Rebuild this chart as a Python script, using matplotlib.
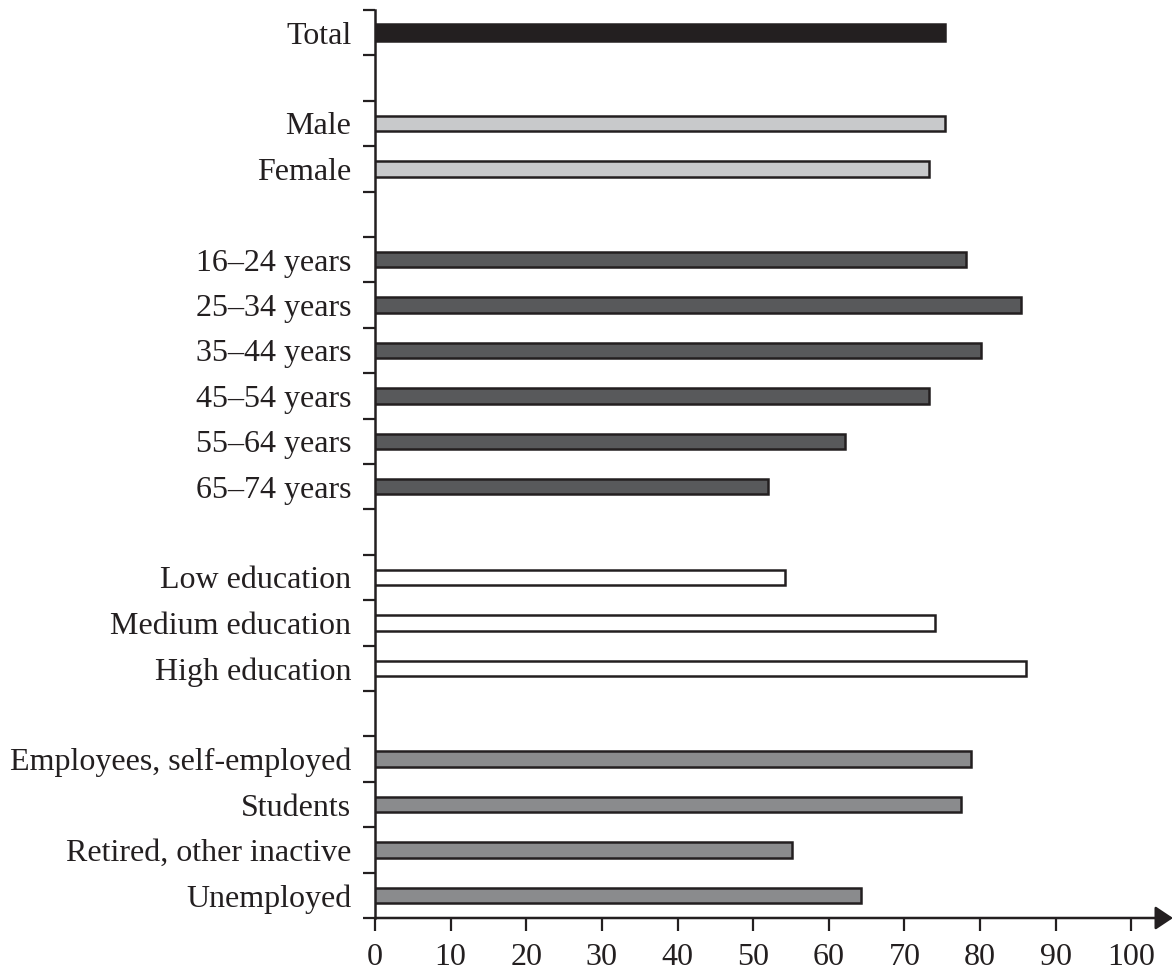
import matplotlib.pyplot as plt
import numpy as np

# Categories and values (percent)
labels = ['Total',
          'Male', 'Female',
          '16–24 years', '25–34 years', '35–44 years', '45–54 years',
          '55–64 years', '65–74 years',
          'Low education', 'Medium education', 'High education',
          'Employees, self-employed', 'Students', 'Retired, other inactive',
          'Unemployed']
values = [75.4,
          75.3, 73.2,
          78.1, 85.4, 80.1, 73.3, 62.2, 52.0,
          54.2, 74.1, 86.1,
          78.8, 77.5, 55.1, 64.2]
groups = [0, 1, 1, 2, 2, 2, 2, 2, 2, 3, 3, 3, 4, 4, 4, 4]
group_colors = ['#231f20', '#c8c9cb', '#58595b', '#ffffff', '#8a8b8d']

# one empty row between groups
rows = np.arange(len(labels)) + np.array(groups)
n_rows = rows[-1] + 1

plt.rcParams['font.family'] = ['Liberation Serif', 'DejaVu Serif']

fig = plt.figure(figsize=(11.73, 9.71), dpi=100)
ax = fig.add_axes([375 / 1173, 1 - 918 / 971, 798 / 1173, 908 / 971])

colors = [group_colors[g] for g in groups]
heights = [0.38 if g == 0 else 0.34 for g in groups]
ax.barh(rows, values, height=heights, color=colors,
        edgecolor='#231f20', linewidth=1.8, zorder=3)

ax.set_xlim(0, 105.5)
ax.set_ylim(n_rows - 0.5, -0.5)

# boundary ticks between rows, labels at row centres
ax.set_yticks(np.arange(-0.5, n_rows, 1.0))
ax.set_yticklabels([])
ax.set_yticks(rows, minor=True)
ax.set_yticklabels(labels, minor=True, fontsize=23, color='#231f20')
ax.tick_params(axis='y', which='major', direction='out', length=9,
               width=1.6, color='#231f20')
ax.tick_params(axis='y', which='minor', length=0, pad=17)

ax.set_xticks(np.arange(0, 101, 10))
ax.tick_params(axis='x', direction='out', length=9, width=1.6,
               color='#231f20', labelsize=23, labelcolor='#231f20', pad=9)

for side in ['top', 'right', 'bottom']:
    ax.spines[side].set_visible(False)
ax.spines['left'].set_linewidth(1.8)
ax.spines['left'].set_color('#231f20')

# x axis line with arrow head
ax.annotate('', xy=(105.5, n_rows - 0.5), xytext=(0, n_rows - 0.5),
            xycoords='data', annotation_clip=False,
            arrowprops=dict(arrowstyle='-|>,head_length=0.6,head_width=0.4',
                            mutation_scale=18, color='#231f20', lw=1.8,
                            shrinkA=0, shrinkB=0))

fig.savefig('out.png', dpi=100)
